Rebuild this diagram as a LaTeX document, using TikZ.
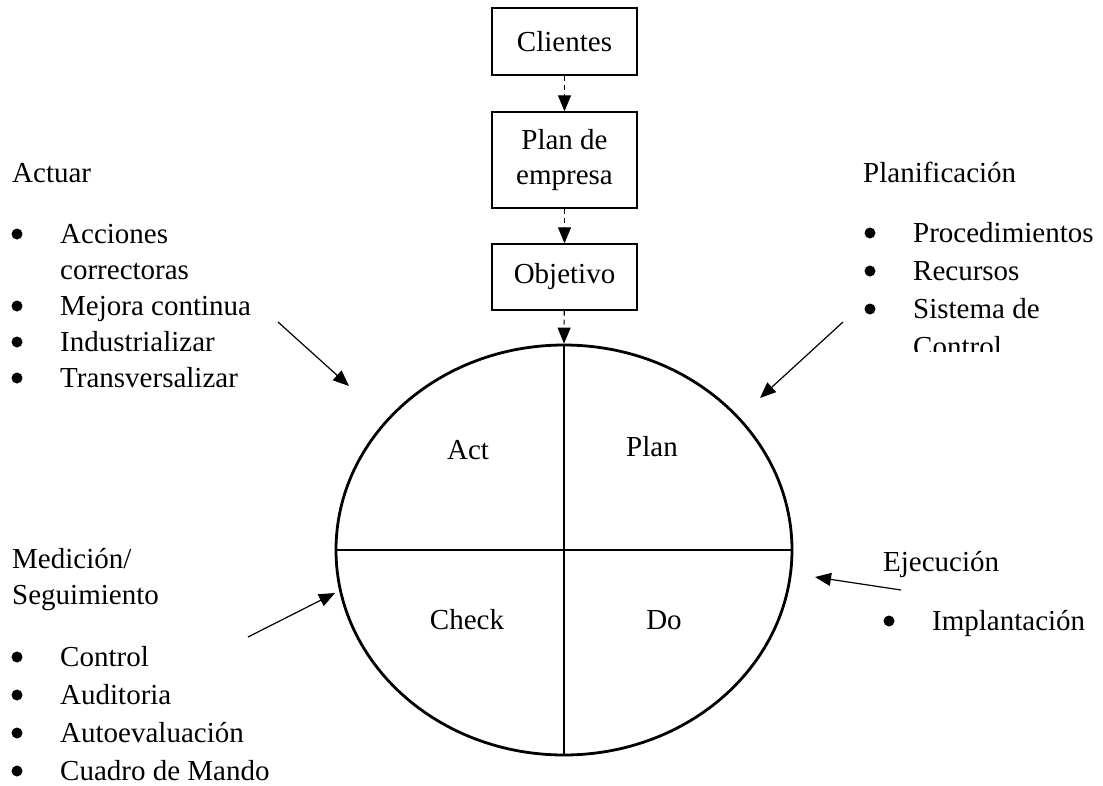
\documentclass[tikz,border=0pt]{standalone}
\usepackage{fontspec}
\setmainfont{Liberation Serif}
\usetikzlibrary{arrows.meta,shapes.geometric}
\newcommand{\itm}[4]{%
  \node[txt](#1)at(#2,#3){#4};
  \node[bul](#1b)at(#2-43,#3-9){};}
\begin{document}
\begin{tikzpicture}[x=1pt,y=-1pt,>={Triangle[length=16pt,width=13pt]},
  every node/.style={font=\fontsize{29}{36}\selectfont,inner sep=0},
  box/.style={draw,line width=1.4pt,minimum width=145pt,align=center,font=\fontsize{29}{35}\selectfont},
  dashto/.style={->,line width=1.1pt,dash pattern=on 5pt off 4pt},
  pointer/.style={->,line width=1.2pt},
  txt/.style={anchor=base west},
  bul/.style={fill=black,circle,minimum size=11pt}]
    \newcommand{\RX}{456}
    \newcommand{\RY}{410}
    \useasboundingbox(0,0)rectangle(1103,785);
    % chain of boxes
    \node[box,minimum height=67pt](Cl)at(564.5,41.5){Clientes};
    \node[box,minimum height=96pt](PE)at(564.5,160){Plan de\\empresa};
    \node[box,minimum height=66pt](Ob)at(564.5,277){Objetivo};
    % PDCA circle
    \node[draw,ellipse,line width=2.8pt,minimum width=\RX,minimum height=\RY](PDCA)at(564,550){};
    \draw[line width=1.1pt](PDCA.north)--(PDCA.south);
    \draw[line width=1.1pt](PDCA.west)--(PDCA.east);
    \node(Act)at(468,450){Act};
    \node(Plan)at(652,447){Plan};
    \node(Check)at(467,620){Check};
    \node(Do)at(664,620){Do};
    \draw[dashto](Cl)--(PE);
    \draw[dashto](PE)--(Ob);
    \draw[dashto](Ob)--(PDCA.north);
    % Actuar
    \node[txt](Actuar)at(12,182){Actuar};
    \itm{A1}{60}{243}{Acciones}
    \node[txt](A1c)at(60,279){correctoras};
    \itm{A2}{60}{315}{Mejora continua}
    \itm{A3}{60}{351}{Industrializar}
    \itm{A4}{60}{387}{Transversalizar}
    \coordinate(AS)at(278,322);
    \coordinate(AE)at(349,386);
    \draw[pointer](AS)--(AE);
    % Planificacion
    \node[txt](Planif)at(863,182){Planificación};
    \itm{P1}{913}{242}{Procedimientos}
    \itm{P2}{913}{280}{Recursos}
    \itm{P3}{913}{318}{Sistema de}
    \begin{scope}
      \clip(880,300)rectangle(1103,351);
      \node[txt](P3c)at(913,356){Control};
    \end{scope}
    \coordinate(PS)at(843,322);
    \coordinate(PE2)at(760,398);
    \draw[pointer](PS)--(PE2);
    % Medicion
    \node[txt](Med)at(12,568){Medición/};
    \node[txt](Seg)at(12,604){Seguimiento};
    \itm{M1}{60}{666}{Control}
    \itm{M2}{60}{704}{Auditoria}
    \itm{M3}{60}{742}{Autoevaluación}
    \itm{M4}{60}{780}{Cuadro de Mando}
    \coordinate(MS)at(248,637);
    \coordinate(ME)at(335,593);
    \draw[pointer](MS)--(ME);
    % Ejecucion
    \node[txt](Eje)at(883,571){Ejecución};
    \itm{E1}{932}{630}{Implantación}
    \coordinate(ES)at(901,590);
    \coordinate(EE)at(815,577);
    \draw[pointer](ES)--(EE);
\end{tikzpicture}
\end{document}
